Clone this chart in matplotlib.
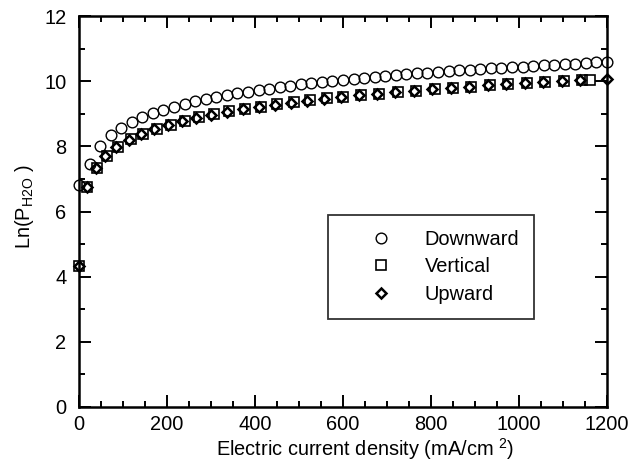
import matplotlib
matplotlib.use("Agg")
import matplotlib.pyplot as plt
from matplotlib.ticker import MultipleLocator

plt.rcParams['font.family'] = ['Liberation Sans', 'DejaVu Sans']
plt.rcParams['mathtext.fontset'] = 'custom'
plt.rcParams['mathtext.rm'] = 'Liberation Sans'
plt.rcParams['mathtext.it'] = 'Liberation Sans'

# Downward (circles)
down_x = [0, 24, 48, 72, 96, 120, 144, 168, 192, 216, 240, 264, 288, 312, 336, 360,
          384, 408, 432, 456, 480, 504, 528, 552, 576, 600, 624, 648, 672, 696, 720,
          744, 768, 792, 816, 840, 864, 888, 912, 936, 960, 984, 1008, 1032, 1056,
          1080, 1104, 1128, 1152, 1176, 1200]
down_y = [6.80, 7.46, 8.02, 8.34, 8.57, 8.75, 8.90, 9.02, 9.13, 9.22, 9.31, 9.38,
          9.45, 9.51, 9.57, 9.63, 9.68, 9.73, 9.77, 9.82, 9.86, 9.90, 9.94, 9.97,
          10.01, 10.04, 10.07, 10.10, 10.13, 10.16, 10.18, 10.21, 10.24, 10.26,
          10.28, 10.31, 10.33, 10.35, 10.37, 10.39, 10.41, 10.43, 10.45, 10.47,
          10.49, 10.51, 10.53, 10.54, 10.56, 10.58, 10.59]

# Vertical (squares)
vert_x = [0, 18, 40, 63, 89, 118, 146, 177, 208, 240, 273, 307, 342, 378, 414, 451,
          488, 525, 563, 600, 641, 682, 724, 766, 808, 850, 892, 934, 976, 1018,
          1060, 1102, 1144, 1162]
vert_y = [4.33, 6.74, 7.35, 7.71, 7.99, 8.22, 8.39, 8.54, 8.67, 8.79, 8.89, 8.98,
          9.07, 9.15, 9.22, 9.29, 9.35, 9.41, 9.47, 9.52, 9.57, 9.62, 9.67, 9.71,
          9.76, 9.80, 9.83, 9.87, 9.91, 9.94, 9.97, 10.00, 10.03, 10.05]

# Upward (diamonds)
up_x = [0, 18, 38, 60, 85, 113, 141, 171, 202, 234, 267, 301, 336, 372, 408, 445,
        482, 519, 557, 595, 636, 677, 719, 761, 803, 845, 887, 929, 971, 1013,
        1055, 1097, 1139, 1200]
up_y = [4.33, 6.76, 7.33, 7.69, 7.97, 8.20, 8.37, 8.53, 8.66, 8.78, 8.88, 8.97,
        9.06, 9.14, 9.21, 9.28, 9.34, 9.40, 9.46, 9.51, 9.57, 9.61, 9.66, 9.71,
        9.75, 9.79, 9.83, 9.87, 9.90, 9.93, 9.97, 10.00, 10.03, 10.07]

labels = ["Downward", "Vertical", "Upward"]

FS = 14.4

fig = plt.figure(figsize=(6.4, 4.75), dpi=100)
ax = fig.add_axes([79/640, 1-407/475, 528/640, 391/475])

ax.plot(down_x, down_y, linestyle='none', marker='o', markersize=7.7,
        markerfacecolor='none', markeredgecolor='black', markeredgewidth=1.0,
        label=labels[0], clip_on=False, zorder=3)
ax.plot(vert_x, vert_y, linestyle='none', marker='s', markersize=7.8,
        markerfacecolor='none', markeredgecolor='black', markeredgewidth=1.2,
        label=labels[1], clip_on=False, zorder=4)
ax.plot(up_x, up_y, linestyle='none', marker='D', markersize=4.6,
        markerfacecolor='none', markeredgecolor='black', markeredgewidth=1.8,
        label=labels[2], clip_on=False, zorder=5)

ax.set_xlim(0, 1200)
ax.set_ylim(0, 12)
ax.xaxis.set_major_locator(MultipleLocator(200))
ax.xaxis.set_minor_locator(MultipleLocator(50))
ax.yaxis.set_major_locator(MultipleLocator(2))
ax.yaxis.set_minor_locator(MultipleLocator(1))
ax.tick_params(which='both', direction='in', top=True, right=True, width=1.4,
               labelsize=FS, colors='black')
ax.tick_params(which='major', length=8.5)
ax.tick_params(which='minor', length=4.5)
ax.tick_params(axis='y', which='major', pad=9)
ax.tick_params(axis='x', which='major', pad=6)
for s in ax.spines.values():
    s.set_linewidth(1.8)

ax.set_xlabel("Electric current density (mA/cm $^{2}$)", fontsize=FS)
ax.xaxis.set_label_coords((365 - 79) / 528, -(449 - 407) / 391)
ax.xaxis.label.set_va('center')
ax.set_ylabel("Ln(P$_{\\mathregular{H2O}}$ )", fontsize=FS)
ax.yaxis.set_label_coords(-(79 - 25) / 528, (407 - 207) / 391)
ax.yaxis.label.set_ha('center')
ax.yaxis.label.set_va('center')

leg = ax.legend(loc='upper left', bbox_to_anchor=(0.472, 0.491), borderaxespad=0,
                fontsize=FS, frameon=True, fancybox=False, edgecolor='black',
                handlelength=3.8, handletextpad=0.26, borderpad=0.75, labelspacing=0.42)
leg.get_frame().set_linewidth(1.3)

fig.savefig("out.png", dpi=100)
